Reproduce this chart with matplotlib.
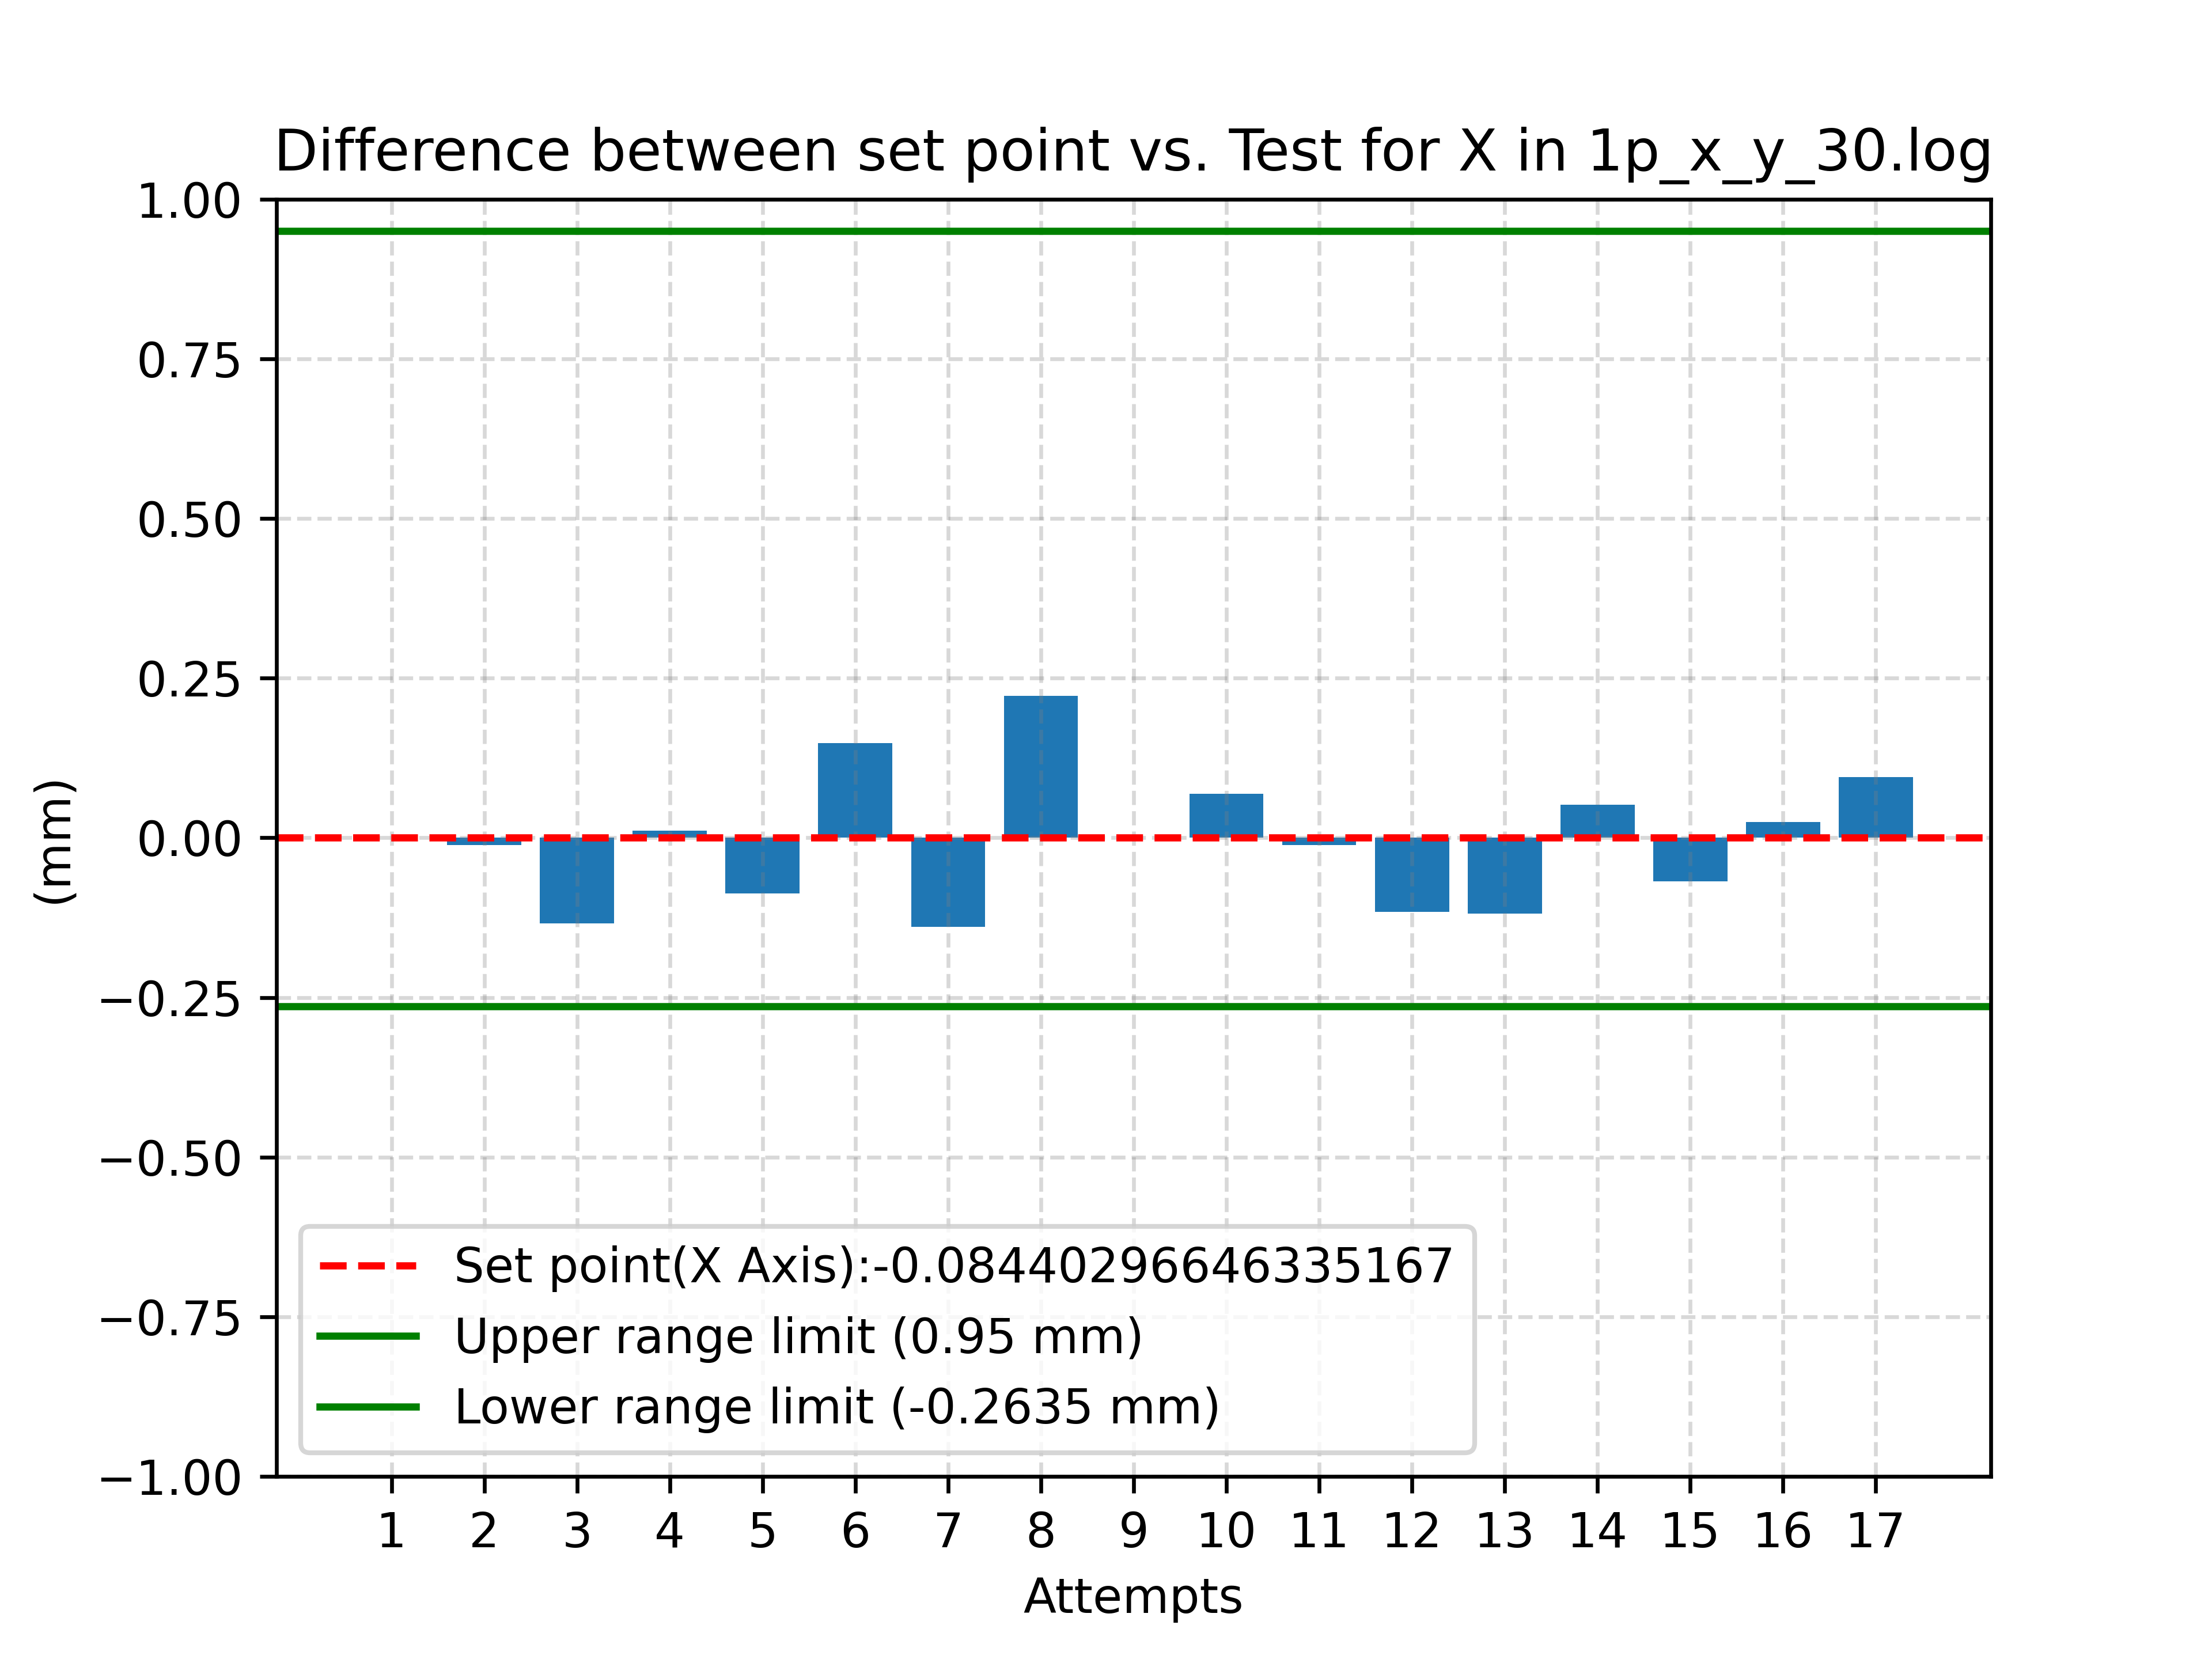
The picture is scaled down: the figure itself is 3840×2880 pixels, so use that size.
import matplotlib
matplotlib.use("Agg")
import matplotlib.pyplot as plt

# ── data ─────────────────────────────────────────────────────────
attempts = list(range(1, 18))
diffs = [0.0, -0.0114, -0.134, 0.0108, -0.0872, 0.148, -0.1395, 0.2219,
         0.0008, 0.0688, -0.0111, -0.1157, -0.1184, 0.0517, -0.0679, 0.0247, 0.095]
set_point = -0.08440296646335167
upper_limit = 0.95
lower_limit = -0.2635
y_ticks = [-1.0, -0.75, -0.5, -0.25, 0.0, 0.25, 0.5, 0.75, 1.0]

fig, ax = plt.subplots(figsize=(6.4, 4.8), dpi=600)
ax.bar(attempts, diffs)
ax.axhline(0, color="r", linestyle="--", label=f"Set point(X Axis):{set_point}")
ax.axhline(upper_limit, color="green", label=f"Upper range limit ({upper_limit} mm)")
ax.axhline(lower_limit, color="green", label=f"Lower range limit ({lower_limit} mm)")

ax.set_ylim(-1, 1)
ax.set_yticks(y_ticks)
ax.set_xticks(attempts)
ax.grid(linestyle="--", color="gray", alpha=0.3)
ax.set_xlabel("Attempts")
ax.set_ylabel("(mm)")
ax.set_title("Difference between set point vs. Test for X in 1p_x_y_30.log")
ax.legend(loc="lower left")

fig.savefig("out.png")
